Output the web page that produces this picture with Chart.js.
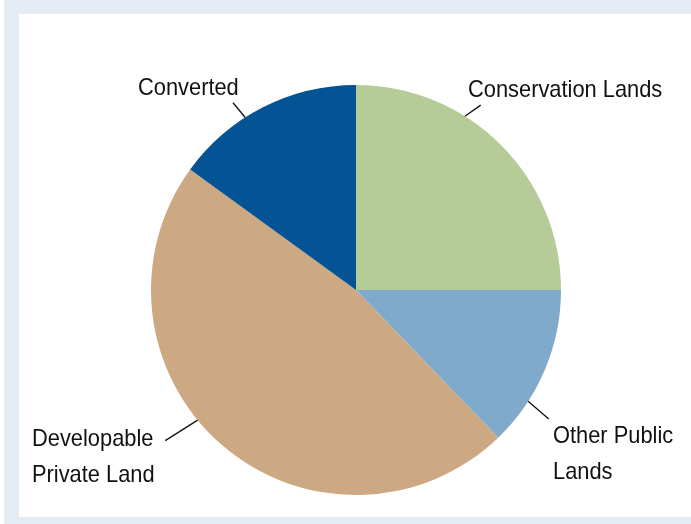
<!DOCTYPE html>
<html>
<head>
<meta charset="utf-8">
<script src="https://cdn.jsdelivr.net/npm/chart.js@4.4.1/dist/chart.umd.min.js"></script>
<style>
  html, body { margin: 0; padding: 0; background: #ffffff; }
  #frame {
    position: absolute; left: 4px; top: 0; width: 687px; height: 524px;
    background: #e4ebf3;
  }
  #inner {
    position: absolute; left: 19px; top: 14px; width: 672px; height: 503px;
    background: #ffffff;
  }
  #wrap { position: absolute; left: 0; top: 0; width: 691px; height: 524px; }
</style>
</head>
<body>
<div id="frame"></div>
<div id="inner"></div>
<div id="wrap"><canvas id="chartPie" width="691" height="524"></canvas></div>
<script>
// ------------------------------------------------------------
//  data
// ------------------------------------------------------------
const categories = ["Conservation Lands", "Other Public Lands", "Developable Private Land", "Converted"];
const shares = [25.0, 12.8, 47.2, 15.0];
const sliceColors = ["#b5cc98", "#80aacb", "#cca883", "#045394"];

// label text lines + leader line (start angle on rim, end angle / radius) + text anchor
const labelLines = [["Conservation Lands"], ["Other Public", "Lands"], ["Developable", "Private Land"], ["Converted"]];
const labelLayout = [
    { ang: -57.9, outAng: -56.0, out: 223, x: 468, y: 97 },
    { ang: 32.9, outAng: 33.8, out: 232, x: 553, y: 443 },
    { ang: 140.6, outAng: 141.7, out: 243, x: 32, y: 446 },
    { ang: -122.7, outAng: -123.3, out: 224, x: 138, y: 95 }
];

const FONT = "24px 'Liberation Sans', Arial, sans-serif";
const SQUEEZE = 0.91; // condensed look of the original type

// ------------------------------------------------------------
//  label plugin
// ------------------------------------------------------------
const pieLabels = {
    id: "pieLabels",
    afterDraw(chart) {
        const ctx = chart.ctx;
        const arc = chart.getDatasetMeta(0).data[0];
        const cx = arc.x, cy = arc.y, r = arc.outerRadius;
        ctx.save();
        ctx.strokeStyle = "#111";
        ctx.lineWidth = 1.3;
        ctx.fillStyle = "#111";
        ctx.font = FONT;
        ctx.textBaseline = "alphabetic";
        ctx.textAlign = "left";
        labelLayout.forEach((l, i) => {
            const a = l.ang * Math.PI / 180;
            const b = l.outAng * Math.PI / 180;
            ctx.beginPath();
            ctx.moveTo(cx + Math.cos(a) * r, cy + Math.sin(a) * r);
            ctx.lineTo(cx + Math.cos(b) * l.out, cy + Math.sin(b) * l.out);
            ctx.stroke();
            labelLines[i].forEach((t, j) => {
                ctx.save();
                ctx.translate(l.x, l.y + j * 36);
                ctx.scale(SQUEEZE, 1);
                ctx.fillText(t, 0, 0);
                ctx.restore();
            });
        });
        ctx.restore();
    }
};

new Chart(document.getElementById("chartPie"), {
    type: "pie",
    data: {
        labels: categories,
        datasets: [{
            data: shares,
            backgroundColor: sliceColors,
            borderWidth: 0
        }]
    },
    options: {
        responsive: false,
        animation: false,
        layout: { padding: { left: 151, right: 130, top: 85, bottom: 29 } },
        plugins: { legend: { display: false }, tooltip: { enabled: false } }
    },
    plugins: [pieLabels]
});
</script>
</body>
</html>
